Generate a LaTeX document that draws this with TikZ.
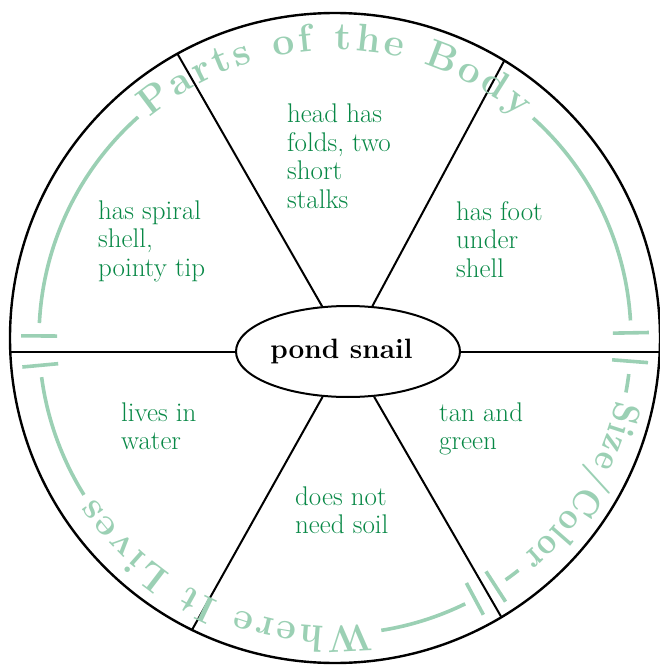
\documentclass[tikz,border=0pt]{standalone}
\usepackage{fontspec}
\usetikzlibrary{decorations.text, shapes.geometric}
\newfontface\sizecolorfont[FakeStretch=0.85]{lmroman10-bold.otf}
\definecolor{dgreen}{RGB}{8,136,70}
\definecolor{lgreen}{RGB}{155,208,180}
\newcommand\mylines[1]{\begin{tabular}[t]{@{}l@{}}#1\end{tabular}}
\begin{document}
\begin{tikzpicture}[x=1pt,y=1pt,
  rim/.style={line width=2.4pt},
  spoke/.style={line width=2pt},
  band/.style={draw=lgreen, line width=3.6pt},
  tickmark/.style={draw=lgreen, line width=3.6pt},
  sectortext/.style={anchor=base west, inner sep=0pt, text=dgreen, font=\fontsize{27}{28.5}\selectfont},
  hub/.style={ellipse, draw, line width=2pt, minimum width=224pt, minimum height=91pt, inner sep=0pt, font=\fontsize{28}{30}\selectfont\bfseries}
]
\useasboundingbox (-335,-327) rectangle (325,338);

% outer circle
\draw[rim] (0,0) circle[radius=325];

% hub
\node[hub] (hub) at (13,-13.5) {pond snail\kern13pt};

% spoke end points on the circle
\coordinate (w) at (-324.7,-13.5);
\coordinate (e) at (324.7,-13.5);
\coordinate (ul) at (119:325);
\coordinate (ur) at (58.6:325);
\coordinate (ll) at (243.9:325);
\coordinate (lr) at (-59.2:325);

\draw[spoke] (hub.west) -- (w);
\draw[spoke] (hub.east) -- (e);
\draw[spoke] (hub) -- (ul);
\draw[spoke] (hub) -- (ur);
\draw[spoke] (hub) -- (ll);
\draw[spoke] (hub) -- (lr);

% sector texts
\node[sectortext] (t1) at (-48,215) {\mylines{head has\\folds, two\\short\\stalks}};
\node[sectortext] (t2) at (-237,119) {\mylines{has spiral\\shell,\\pointy tip}};
\node[sectortext] (t3) at (121,118) {\mylines{has foot\\under\\shell}};
\node[sectortext] (t4) at (-214,-83) {\mylines{lives in\\water}};
\node[sectortext] (t5) at (104,-83) {\mylines{tan and\\green}};
\node[sectortext] (t6) at (-40,-167) {\mylines{does not\\need soil}};

% category bands: Parts of the Body
\draw[tickmark] (179.6:278) -- (179.6:314);
\draw[band] (177.1:296) arc[start angle=177.1, end angle=131.7, radius=296];
\path[decorate, decoration={text along path, text align=fit to path, text color=lgreen,
  text={|\fontsize{39}{39}\selectfont\bfseries|Parts of the Body}}]
  (130:288) arc[start angle=130, end angle=50, radius=288];
\draw[band] (48:296) arc[start angle=48, end angle=3.4, radius=296];
\draw[tickmark] (1:278) -- (1:314);

% Size/Color
\draw[tickmark] (-4.5:278) -- (-4.5:314);
\draw[band] (-7:296) arc[start angle=-7, end angle=-10.6, radius=296];
\path[decorate, decoration={text along path, text align=fit to path, text color=lgreen,
  text={|\sizecolorfont\fontsize{38}{38}\selectfont|Size/Color}}]
  (-12.5:288) arc[start angle=-12.5, end angle=-49.5, radius=288];
\draw[band] (-51.7:296) arc[start angle=-51.7, end angle=-54.8, radius=296];
\draw[tickmark] (-57.1:278) -- (-57.1:314);

% Where It Lives
\draw[tickmark] (-61.8:278) -- (-61.8:314);
\draw[band] (-63.9:296) arc[start angle=-63.9, end angle=-81, radius=296];
\path[decorate, decoration={text along path, text align=fit to path, text color=lgreen,
  text={|\fontsize{38}{38}\selectfont\bfseries|Where It Lives}}]
  (-82.8:288) arc[start angle=-82.8, end angle=-146.4, radius=288];
\draw[band] (-148:296) arc[start angle=-148, end angle=-172.4, radius=296];
\draw[tickmark] (-174.7:278) -- (-174.7:314);
\end{tikzpicture}
\end{document}
